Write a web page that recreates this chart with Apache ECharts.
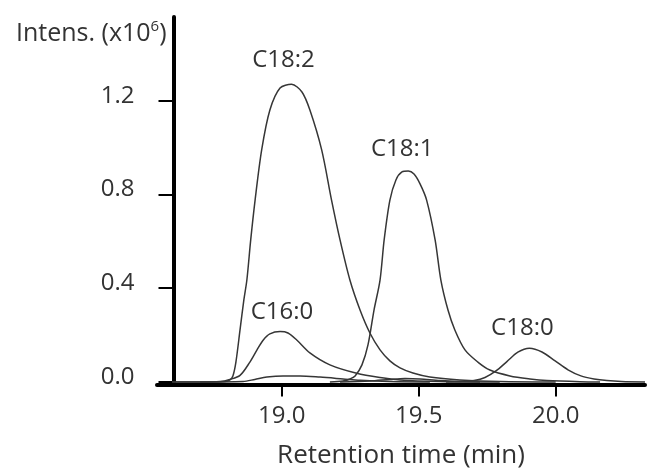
<!DOCTYPE html>
<html>
<head>
<meta charset="utf-8">
<title>Chromatogram</title>
<script src="https://cdn.jsdelivr.net/npm/echarts@6/dist/echarts.min.js"></script>
<style>
  html, body { margin: 0; padding: 0; background: #ffffff; }
  #chart { width: 647px; height: 469px; }
</style>
</head>
<body>
<div id="chart"></div>
<script>
// Retention time (min), intensity (x10^6)
const c182 = [
  [18.60, 0], [18.702, 0], [18.793, 0.002], [18.811, 0.009], [18.822, 0.026], [18.833, 0.085],
  [18.848, 0.222], [18.862, 0.350], [18.873, 0.435], [18.887, 0.606], [18.903, 0.776],
  [18.927, 0.990], [18.957, 1.160], [18.994, 1.254], [19.036, 1.270], [19.074, 1.237],
  [19.103, 1.160], [19.146, 0.990], [19.182, 0.776], [19.213, 0.606], [19.249, 0.435],
  [19.286, 0.307], [19.322, 0.209], [19.359, 0.137], [19.395, 0.090], [19.432, 0.060],
  [19.479, 0.038], [19.541, 0.021], [19.650, 0.009], [19.796, 0.002], [20.00, 0]
];
const c181 = [
  [19.176, 0], [19.224, 0.004], [19.249, 0.013], [19.268, 0.026], [19.293, 0.073],
  [19.315, 0.158], [19.337, 0.307], [19.359, 0.435], [19.374, 0.606], [19.395, 0.776],
  [19.417, 0.862], [19.439, 0.896], [19.462, 0.900], [19.483, 0.887], [19.505, 0.845],
  [19.529, 0.776], [19.560, 0.606], [19.581, 0.435], [19.607, 0.307], [19.632, 0.222],
  [19.669, 0.137], [19.716, 0.085], [19.760, 0.051], [19.833, 0.026], [19.906, 0.013],
  [19.968, 0.006], [20.089, 0.001], [20.162, 0]
];
const c160 = [
  [18.60, 0], [18.702, 0], [18.775, 0.002], [18.811, 0.011], [18.848, 0.028], [18.884, 0.085],
  [18.910, 0.137], [18.933, 0.179], [18.957, 0.205], [18.994, 0.215], [19.023, 0.209],
  [19.055, 0.179], [19.103, 0.124], [19.176, 0.073], [19.274, 0.037], [19.359, 0.019],
  [19.432, 0.009], [19.578, 0.002], [19.724, 0]
];
const c180 = [
  [19.600, 0], [19.662, 0.002], [19.702, 0.006], [19.742, 0.019], [19.782, 0.047],
  [19.822, 0.087], [19.862, 0.127], [19.904, 0.144], [19.950, 0.128], [19.998, 0.090],
  [20.045, 0.052], [20.092, 0.026], [20.140, 0.013], [20.187, 0.006], [20.240, 0.002],
  [20.326, 0]
];
const minorA = [
  [18.702, 0], [18.859, 0.002], [18.902, 0.011], [18.946, 0.021], [19.005, 0.026],
  [19.067, 0.026], [19.140, 0.021], [19.224, 0.013], [19.286, 0.007], [19.395, 0.002],
  [19.541, 0]
];
const minorB = [
  [19.213, 0], [19.322, 0.004], [19.395, 0.011], [19.450, 0.015], [19.505, 0.013],
  [19.578, 0.006], [19.687, 0.001], [19.796, 0]
];

const peakNames = ['C18:2', 'C18:1', 'C16:0', 'C18:0'];
const xTicks = [19.0, 19.5, 20.0];
const yTicks = [0.0, 0.4, 0.8, 1.2];

const FONT = '"Open Sans", "Noto Sans", sans-serif';
const INK = '#333333';
const LINE = '#363636';

// label placement relative to each apex, in pixels
const labelOffsets = [[-8, -24], [-6, -22], [2, -19], [-7, -20]];

const traces = [c182, c181, c160, c180, minorA, minorB];
const labelled = [c182, c181, c160, c180];

function apex(curve) {
  return curve.reduce((best, p) => (p[1] > best[1] ? p : best), curve[0]);
}

const peakLabelData = labelled.map((curve, i) => ({
  value: apex(curve),
  label: { formatter: peakNames[i], offset: labelOffsets[i] }
}));

const chart = echarts.init(document.getElementById('chart'), null, { renderer: 'canvas' });

chart.setOption({
  animation: false,
  backgroundColor: '#ffffff',
  title: {
    text: 'Intens. (x10{sup|6})',
    left: 11,
    top: 14,
    textStyle: {
      fontFamily: FONT,
      fontSize: 25,
      fontWeight: 'normal',
      color: INK,
      rich: {
        sup: { fontFamily: FONT, fontSize: 15, color: INK, verticalAlign: 'top', padding: [0, 0, 15, 0] }
      }
    }
  },
  grid: { left: 157, right: 2, top: 17, bottom: 84.5, containLabel: false, outerBoundsMode: 'none' },
  xAxis: {
    type: 'value',
    min: 18.545,
    max: 20.326,
    name: 'Retention time (min)',
    nameLocation: 'middle',
    nameGap: 58,
    nameTextStyle: { fontFamily: FONT, fontSize: 26, color: INK },
    axisLine: { onZero: false, lineStyle: { color: '#000000', width: 4 } },
    axisTick: { show: true, customValues: xTicks, length: 12, lineStyle: { color: '#000000', width: 2 } },
    axisLabel: {
      customValues: xTicks,
      formatter: v => v.toFixed(1),
      fontFamily: FONT, fontSize: 24, color: INK, margin: 20
    },
    splitLine: { show: false }
  },
  yAxis: {
    type: 'value',
    min: -0.0107,
    max: 1.557,
    offset: -16.5,
    axisLine: { show: true, onZero: false, lineStyle: { color: '#000000', width: 4 } },
    axisTick: { show: true, customValues: yTicks, length: 15, lineStyle: { color: '#000000', width: 2 } },
    axisLabel: {
      customValues: yTicks,
      formatter: v => '{t|' + v.toFixed(1) + '}',
      margin: 39,
      rich: {
        t: { fontFamily: FONT, fontSize: 24, color: INK, padding: [0, 0, 10, 0] }
      }
    },
    splitLine: { show: false }
  },
  series: traces.map(curve => ({
    type: 'line',
    data: curve,
    smooth: 0.3,
    showSymbol: false,
    symbol: 'none',
    silent: true,
    lineStyle: { color: LINE, width: 1.5 },
    z: 1
  })).concat([{
    type: 'scatter',
    data: peakLabelData,
    symbolSize: 0,
    silent: true,
    itemStyle: { opacity: 1 },
    label: {
      show: true,
      position: 'inside',
      fontFamily: FONT,
      fontSize: 24,
      color: INK,
      opacity: 1,
      textBorderWidth: 0
    },
    z: 3
  }])
});
</script>
</body>
</html>
